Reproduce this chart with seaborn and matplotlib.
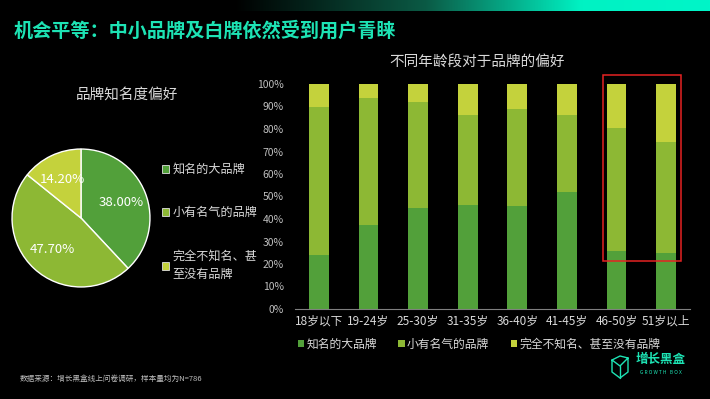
import numpy as np
import pandas as pd
import matplotlib
matplotlib.use("Agg")
import matplotlib.pyplot as plt
import seaborn as sns
from matplotlib.patches import Patch, Rectangle
from matplotlib.lines import Line2D
from matplotlib.colors import LinearSegmentedColormap

sns.set_theme(style="dark")
plt.rcParams['font.family'] = ['Noto Sans CJK SC', 'DejaVu Sans']
plt.rcParams['axes.unicode_minus'] = False

# 数据
TITLE = "机会平等：中小品牌及白牌依然受到用户青睐"
SOURCE = "数据来源：增长黑盒线上问卷调研，样本量均为N=786"

series_names = ["知名的大品牌", "小有名气的品牌", "完全不知名、甚至没有品牌"]
pie_legend_labels = ["知名的大品牌", "小有名气的品牌", "完全不知名、甚\n至没有品牌"]
pie_values = [38.00, 47.70, 14.20]
pie_labels = ["38.00%", "47.70%", "14.20%"]

age_groups = ["18岁以下", "19-24岁", "25-30岁", "31-35岁", "36-40岁", "41-45岁", "46-50岁", "51岁以上"]
big_brand = [24.1, 37.5, 44.7, 46.2, 45.6, 52.1, 25.9, 24.7]
small_brand = [65.8, 56.3, 47.4, 40.2, 43.4, 34.1, 54.7, 49.7]
no_brand = [10.1, 6.2, 7.9, 13.6, 11.0, 13.8, 19.4, 25.6]

colors = ["#52A03A", "#8DB834", "#C4D23C"]
TEXT = "#D9D9D9"
ACCENT = "#1DE3B4"
BG = "black"

fig = plt.figure(figsize=(7.1, 3.99), dpi=100, facecolor=BG)

# 顶部渐变条
grad_ax = fig.add_axes([0, 1 - 11 / 399, 1, 11 / 399])
cmap = LinearSegmentedColormap.from_list(
    "top", [(0, "#000000"), (0.33, "#000000"), (0.6, "#0B5A45"), (0.82, "#00F2C3"), (1, "#00F5C8")])
grad_ax.imshow(np.linspace(0, 1, 256)[None, :], aspect="auto", cmap=cmap)
grad_ax.axis("off")

fig.text(14 / 710, 1 - 31 / 399, TITLE, color=ACCENT, fontsize=13.8,
         fontweight="bold", va="center", ha="left")

# 饼图
pie_ax = fig.add_axes([(81 - 70) / 710, 1 - (218 + 70) / 399, 140 / 710, 140 / 399])
pie_ax.set_facecolor(BG)
label_iter = iter(pie_labels)
wedges, _, autotexts = pie_ax.pie(
    pie_values, colors=colors, startangle=90, counterclock=False,
    autopct=lambda p: next(label_iter), pctdistance=0.62,
    wedgeprops=dict(edgecolor="white", linewidth=1.0),
    textprops=dict(color="white", fontsize=9.5))
pie_ax.set_xlim(-1.015, 1.015)
pie_ax.set_ylim(-1.015, 1.015)
pie_ax.set_aspect("equal")
fig.text(127 / 710, 1 - 95 / 399, "品牌知名度偏好", color=TEXT, fontsize=10.5,
         ha="center", va="center")

pie_handles = [Patch(facecolor=c, edgecolor="#E0E0E0", linewidth=0.6) for c in colors]
pie_leg = fig.legend(pie_handles, pie_legend_labels, loc="upper left",
                     bbox_to_anchor=(162 / 710, 1 - 163 / 399), frameon=False,
                     labelcolor=TEXT, fontsize=8.7, handlelength=0.6, handleheight=0.6,
                     handletextpad=0.25, labelspacing=2.5, borderpad=0, borderaxespad=0)
pie_leg.get_texts()[2].set_linespacing(1.55)

# 堆积柱状图
df = pd.DataFrame({"age": age_groups,
                   "big": big_brand,
                   "small": small_brand,
                   "none": no_brand})
df["total"] = df["big"] + df["small"] + df["none"]
df["mid"] = df["big"] + df["small"]

bar_ax = fig.add_axes([295 / 710, 1 - 309 / 399, 395 / 710, 225 / 399])
bar_ax.set_facecolor(BG)
sns.barplot(data=df, x="age", y="total", color=colors[2], width=0.4,
            saturation=1, ax=bar_ax, edgecolor="none")
sns.barplot(data=df, x="age", y="mid", color=colors[1], width=0.4,
            saturation=1, ax=bar_ax, edgecolor="none")
sns.barplot(data=df, x="age", y="big", color=colors[0], width=0.4,
            saturation=1, ax=bar_ax, edgecolor="none")

bar_ax.set_ylim(0, 100)
bar_ax.set_xlim(-0.48, 7.48)
bar_ax.set_yticks(np.arange(0, 101, 10))
bar_ax.set_yticklabels([f"{v}%" for v in range(0, 101, 10)])
bar_ax.set_xlabel("")
bar_ax.set_ylabel("")
bar_ax.tick_params(axis="both", colors=TEXT, labelsize=8.5, length=0, pad=4)
bar_ax.tick_params(axis="y", labelcolor="#BFBFBF", labelsize=7.5, pad=8)
for s in ["left", "right", "top"]:
    bar_ax.spines[s].set_visible(False)
bar_ax.spines["bottom"].set_color("#7F7F7F")
bar_ax.spines["bottom"].set_linewidth(0.8)
bar_ax.grid(False)

# 红框标注
bar_ax.add_patch(Rectangle((5.73, 21.3), 1.57, 82.7, fill=False,
                           edgecolor="#E52222", linewidth=1.1, clip_on=False))

fig.text(477 / 710, 1 - 62 / 399, "不同年龄段对于品牌的偏好", color=TEXT,
         fontsize=10.5, ha="center", va="center")

bar_handles = [Patch(facecolor=c, edgecolor="none") for c in colors]
fig.legend(bar_handles, series_names, loc="center",
           bbox_to_anchor=(479 / 710, 1 - 344 / 399), ncol=3, frameon=False,
           labelcolor=TEXT, fontsize=8.5, handlelength=0.55, handleheight=0.55,
           handletextpad=0.2, columnspacing=1.8)

# 数据来源与 logo
fig.text(20 / 710, 1 - 379 / 399, SOURCE, color="#BFBFBF", fontsize=5.5,
         style="italic", ha="left", va="center")
fig.text(661 / 710, 1 - 359 / 399, "增长黑盒", color=ACCENT, fontsize=9,
         fontweight="bold", ha="center", va="center")
fig.text(661 / 710, 1 - 373 / 399, "G R O W T H   B O X", color=ACCENT,
         fontsize=3.5, ha="center", va="center")
icon_x = np.array([612, 620, 628, 628, 620, 612, 612, 620, 628]) / 710
icon_y = 1 - np.array([360, 356, 358, 372, 378, 372, 360, 366, 358]) / 399
fig.add_artist(Line2D(icon_x, icon_y, color=ACCENT, linewidth=1.0))
fig.add_artist(Line2D(np.array([620, 620]) / 710, 1 - np.array([366, 378]) / 399,
                      color=ACCENT, linewidth=1.0))

fig.savefig("out.png", dpi=100, facecolor=BG)
